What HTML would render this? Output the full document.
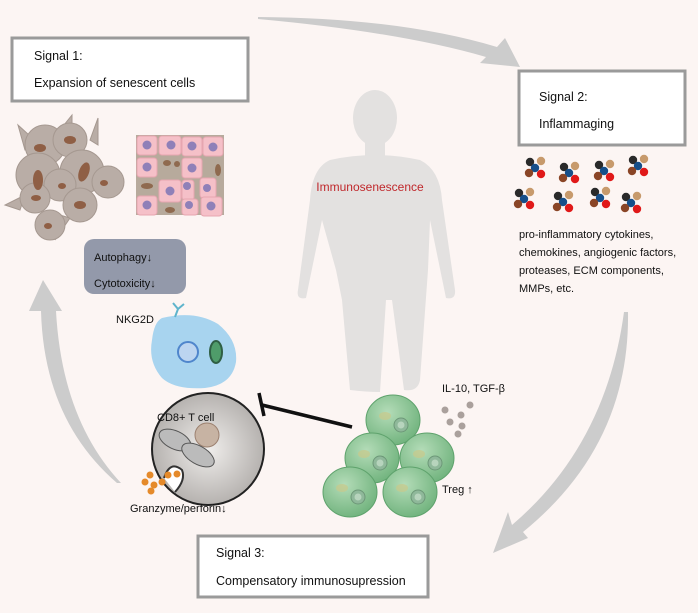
<!DOCTYPE html>
<html><head><meta charset="utf-8"><style>
html,body{margin:0;padding:0;background:#fcf5f3;}
svg{display:block;font-family:"Liberation Sans",sans-serif;}
</style></head><body>
<svg width="698" height="613" viewBox="0 0 698 613" xmlns="http://www.w3.org/2000/svg">
<defs>
<g id="mol"><circle cx="-5" cy="-6" r="4.2" fill="#2a2a2a"/><circle cx="6" cy="-7" r="4.2" fill="#c79a6c"/><circle cx="0" cy="0" r="4.2" fill="#164f8a"/><circle cx="-6" cy="5" r="4.2" fill="#8a4526"/><circle cx="6" cy="6" r="4.2" fill="#e01919"/></g>
<radialGradient id="gr" cx="0.4" cy="0.35" r="0.7"><stop offset="0" stop-color="#b4dcb8"/><stop offset="1" stop-color="#6fb27c"/></radialGradient>
<radialGradient id="gy" cx="0.5" cy="0.5" r="0.6"><stop offset="0" stop-color="#f0eeec"/><stop offset="1" stop-color="#aaa6a3"/></radialGradient>
<g id="treg"><ellipse cx="0" cy="0" rx="27" ry="25" fill="url(#gr)" stroke="#5ea26c" stroke-width="1"/><ellipse cx="-8" cy="-4" rx="6" ry="4" fill="#c9c98a" opacity=".7"/><circle cx="8" cy="5" r="7" fill="#8fb89a" stroke="#6d9878"/><circle cx="8" cy="5" r="3.5" fill="#b7d4bd"/></g>
</defs>
<!-- arrows -->
<path d="M258 17 Q400 18 497 47 L505 38 L520 67 L480 63 L486 57 Q400 32 258 19 Z" fill="#cccccc"/>
<path d="M624 312 Q606 445 512 525 L508 512 L493 553 L528 538 L523 532 Q630 445 628 312 Z" fill="#cccccc"/>
<path d="M117 483 Q44 420 41 311 L29 311 L43 280 L62 311 L56 311 Q62 420 121 483 Z" fill="#cccccc"/>
<!-- human silhouette -->
<g fill="#e3e1e0">
<ellipse cx="375" cy="118" rx="22" ry="28"/>
<rect x="365" y="140" width="20" height="18"/>
<path d="M330 160 Q375 150 420 160 Q440 170 442 200 L455 290 Q456 300 446 298 L430 220 L428 270 L420 380 Q418 392 404 390 L392 300 L386 300 L380 392 Q366 392 350 390 L342 300 L336 270 L322 220 L306 298 Q296 300 298 290 L310 200 Q312 168 330 160Z"/>
</g>
<text x="370" y="191" font-size="12" fill="#c0282c" text-anchor="middle">Immunosenescence</text>
<!-- boxes -->
<rect x="12" y="38" width="236" height="63" fill="#fff" stroke="#9a9a9a" stroke-width="3"/>
<text x="34" y="60" font-size="12.5" fill="#111">Signal 1:</text>
<text x="34" y="87" font-size="12.5" fill="#111">Expansion of senescent cells</text>
<rect x="519" y="71" width="166" height="74" fill="#fff" stroke="#9a9a9a" stroke-width="3"/>
<text x="539" y="101" font-size="12.5" fill="#111">Signal 2:</text>
<text x="539" y="128" font-size="12.5" fill="#111">Inflammaging</text>
<rect x="198" y="536" width="230" height="61" fill="#fff" stroke="#9a9a9a" stroke-width="3"/>
<text x="216" y="557" font-size="12.5" fill="#111">Signal 3:</text>
<text x="216" y="585" font-size="12.5" fill="#111">Compensatory immunosupression</text>
<!-- senescent cells -->
<g fill="#b9ada6" stroke="#a59890">
<path d="M25 150 L18 125 L40 145 Z M60 130 L72 115 L72 135 Z M90 140 L98 118 L98 145Z M20 210 L5 205 L25 195Z M95 185 L108 170 L102 195Z M60 215 L55 240 L70 218Z"/>
<circle cx="45" cy="145" r="20"/><circle cx="70" cy="140" r="17"/><circle cx="38" cy="175" r="22"/><circle cx="82" cy="172" r="22"/><circle cx="108" cy="182" r="16"/><circle cx="60" cy="185" r="16"/><circle cx="35" cy="198" r="15"/><circle cx="80" cy="205" r="17"/><circle cx="50" cy="225" r="15"/>
</g>
<g fill="#8f5f45"><ellipse cx="40" cy="148" rx="6" ry="4"/><ellipse cx="70" cy="140" rx="6" ry="4"/><ellipse cx="38" cy="180" rx="5" ry="10"/><ellipse cx="84" cy="172" rx="5" ry="10" transform="rotate(20 84 172)"/><ellipse cx="104" cy="183" rx="4" ry="3"/><ellipse cx="62" cy="186" rx="4" ry="3"/><ellipse cx="36" cy="198" rx="5" ry="3"/><ellipse cx="80" cy="205" rx="6" ry="4"/><ellipse cx="48" cy="226" rx="4" ry="3"/></g>
<!-- tissue grid -->
<g>
<rect x="136" y="135" width="88" height="80" fill="#b7aa9c"/>
<g fill="#f5c0c8" stroke="#e6a6b0">
<rect x="137" y="136" width="20" height="19" rx="3"/><rect x="159" y="136" width="22" height="19" rx="3"/><rect x="182" y="137" width="20" height="19" rx="3"/><rect x="203" y="137" width="20" height="19" rx="3"/>
<rect x="137" y="158" width="20" height="19" rx="3"/><rect x="182" y="158" width="20" height="20" rx="3"/>
<rect x="159" y="180" width="22" height="22" rx="3"/><rect x="182" y="180" width="12" height="20" rx="3"/><rect x="200" y="178" width="16" height="20" rx="3"/>
<rect x="137" y="196" width="20" height="19" rx="3"/><rect x="182" y="199" width="16" height="16" rx="3"/><rect x="201" y="197" width="21" height="19" rx="3"/>
</g>
<g fill="#8f80b8"><circle cx="147" cy="145" r="4.5"/><circle cx="171" cy="145" r="4.5"/><circle cx="192" cy="146" r="4.5"/><circle cx="213" cy="147" r="4.5"/><circle cx="147" cy="167" r="4.5"/><circle cx="192" cy="168" r="4.5"/><circle cx="170" cy="191" r="4.5"/><circle cx="187" cy="186" r="4"/><circle cx="207" cy="188" r="4"/><circle cx="147" cy="205" r="4.5"/><circle cx="189" cy="205" r="4"/><circle cx="211" cy="206" r="4.5"/></g>
<g fill="#8f6a4f"><ellipse cx="167" cy="163" rx="4" ry="3"/><ellipse cx="177" cy="164" rx="3" ry="3"/><ellipse cx="218" cy="170" rx="3" ry="6"/><ellipse cx="147" cy="186" rx="6" ry="3"/><ellipse cx="170" cy="210" rx="5" ry="3"/></g>
</g>
<!-- autophagy box -->
<rect x="84" y="239" width="102" height="55" rx="10" fill="#9399aa"/>
<text x="94" y="261" font-size="11" fill="#111">Autophagy↓</text>
<text x="94" y="287" font-size="11" fill="#111">Cytotoxicity↓</text>
<!-- NK cell -->
<text x="116" y="323" font-size="11" fill="#111">NKG2D</text>
<path d="M162 318 Q195 310 218 324 Q238 340 236 362 Q232 385 205 388 Q175 390 162 378 Q148 362 152 340 Q154 322 162 318Z" fill="#a8d4ef"/>
<path d="M175 317 L178 309 M178 309 L173 303 M178 309 L184 304" stroke="#5fb4cc" stroke-width="2" fill="none"/>
<circle cx="188" cy="352" r="10" fill="#bcd5f0" stroke="#4f86cc" stroke-width="2"/>
<ellipse cx="216" cy="352" rx="6" ry="11" fill="#4f9c6a" stroke="#2f5f44" stroke-width="2"/>
<!-- CD8 -->
<circle cx="208" cy="449" r="56" fill="url(#gy)" stroke="#222" stroke-width="2"/>
<text x="157" y="421" font-size="11" fill="#111">CD8+ T  cell</text>
<circle cx="207" cy="435" r="12" fill="#c7b3a3" stroke="#9c8170"/>
<ellipse cx="175" cy="440" rx="17" ry="9" fill="#bbb" stroke="#555" transform="rotate(25 175 440)"/>
<ellipse cx="198" cy="455" rx="18" ry="9" fill="#bbb" stroke="#555" transform="rotate(30 198 455)"/>
<path d="M164 478 Q170 460 182 470 Q186 480 175 492" fill="#fff" stroke="#333" stroke-width="2"/>
<g fill="#e58a2a"><circle cx="168" cy="475" r="3.5"/><circle cx="177" cy="474" r="3.5"/><circle cx="162" cy="482" r="3.5"/><circle cx="150" cy="475" r="3.5"/><circle cx="154" cy="485" r="3.5"/><circle cx="145" cy="482" r="3.5"/><circle cx="151" cy="491" r="3.5"/></g>
<text x="130" y="512" font-size="11" fill="#111">Granzyme/perforin↓</text>
<!-- inhibition -->
<line x1="352" y1="427" x2="262" y2="405" stroke="#111" stroke-width="3.5"/>
<line x1="259" y1="393" x2="264" y2="416" stroke="#111" stroke-width="3.5"/>
<!-- Tregs -->
<use href="#treg" x="393" y="420"/>
<use href="#treg" x="372" y="458"/>
<use href="#treg" x="427" y="458"/>
<use href="#treg" x="350" y="492"/>
<use href="#treg" x="410" y="492"/>
<text x="442" y="392" font-size="11" fill="#111">IL-10, TGF-β</text>
<g fill="#aaa09c"><circle cx="445" cy="410" r="3.5"/><circle cx="461" cy="415" r="3.5"/><circle cx="470" cy="405" r="3.5"/><circle cx="450" cy="422" r="3.5"/><circle cx="462" cy="426" r="3.5"/><circle cx="458" cy="434" r="3.5"/></g>
<text x="442" y="493" font-size="11" fill="#111">Treg ↑</text>
<!-- molecules -->
<use href="#mol" x="535" y="168"/><use href="#mol" x="569" y="173"/><use href="#mol" x="604" y="171"/><use href="#mol" x="638" y="166"/>
<use href="#mol" x="524" y="199"/><use href="#mol" x="563" y="202"/><use href="#mol" x="600" y="198"/><use href="#mol" x="631" y="203"/>
<g font-size="11" fill="#111">
<text x="519" y="238">pro-inflammatory cytokines,</text>
<text x="519" y="256">chemokines, angiogenic factors,</text>
<text x="519" y="274">proteases, ECM components,</text>
<text x="519" y="292">MMPs, etc.</text>
</g>
</svg>
</body></html>
